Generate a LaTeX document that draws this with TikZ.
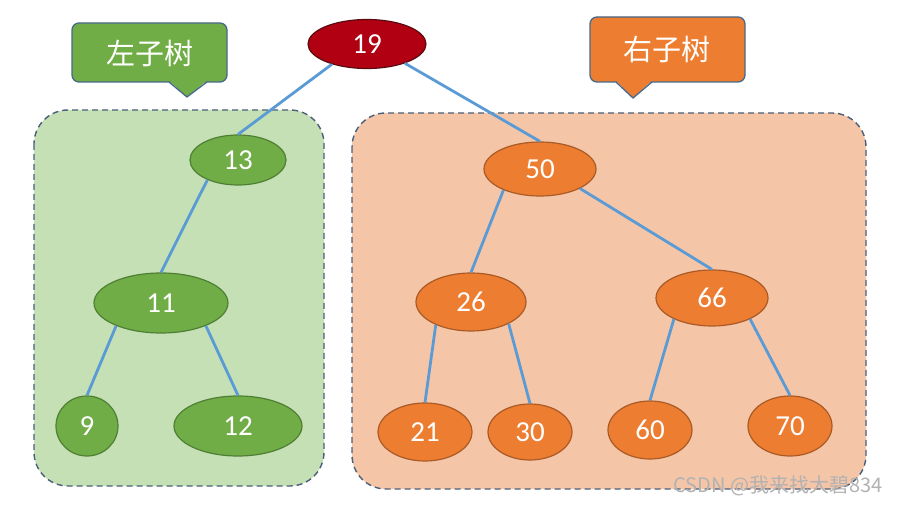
\documentclass[tikz,border=0pt]{standalone}
\usepackage{fontspec}
\setmainfont{Carlito}
\newfontfamily\cjkfont{Noto Sans CJK SC}
\usetikzlibrary{shapes.geometric}
\definecolor{gfill}{HTML}{70AD47}
\definecolor{gline}{HTML}{4F7F34}
\definecolor{ofill}{HTML}{ED7D31}
\definecolor{oline}{HTML}{A95A25}
\definecolor{rfill}{HTML}{B00012}
\definecolor{rline}{HTML}{5A0A10}
\definecolor{gregion}{HTML}{C5E0B4}
\definecolor{oregion}{HTML}{F5C5A8}
\definecolor{regline}{HTML}{4A5F7A}
\definecolor{edgec}{HTML}{5B9BD5}
\definecolor{callline}{HTML}{48698A}
\tikzset{
  tnode/.style={ellipse, inner sep=0pt, line width=1.2pt, text=white,
    font=\fontsize{29}{34}\selectfont},
  gnode/.style={tnode, fill=gfill, draw=gline},
  onode/.style={tnode, fill=ofill, draw=oline},
  rnode/.style={tnode, fill=rfill, draw=rline},
  edge/.style={draw=edgec, line width=2.8pt},
  region/.style={draw=regline, line width=1.4pt, dash pattern=on 6pt off 4pt, rounded corners=34pt},
  calltext/.style={text=white, font=\cjkfont\fontsize{29}{34}\selectfont, inner sep=0pt},
}
\begin{document}
\begin{tikzpicture}[x=1pt,y=-1pt]
\useasboundingbox (0,0) rectangle (898,505);
\fill[white] (0,0) rectangle (898,505);
% regions
\path[region, fill=gregion] (34,110) rectangle (324,486);
\path[region, fill=oregion] (352,113) rectangle (866,489);
% callouts
\path[fill=gfill, draw=callline, line width=1.3pt, rounded corners=7pt] (72,23) rectangle (227,82);
\fill[gfill] (169,80.6) -- (187,97) -- (207,80.6) -- cycle;
\draw[callline, line width=1.3pt, line join=miter] (169,82) -- (187,97) -- (207,82);
\node[calltext] (lt) at (149.5,53) {左子树};
\path[fill=ofill, draw=callline, line width=1.3pt, rounded corners=7pt] (590,17) rectangle (745,82);
\fill[ofill] (616,80.6) -- (633,98) -- (652,80.6) -- cycle;
\draw[callline, line width=1.3pt, line join=miter] (616,82) -- (633,98) -- (652,82);
\node[calltext] (rt) at (667,49) {右子树};
% nodes
\node[rnode, minimum width=118pt, minimum height=49pt] (n19) at (367,44) {19};
\node[gnode, minimum width=96pt, minimum height=50pt] (n13) at (238,160) {13};
\node[onode, minimum width=112pt, minimum height=54pt] (n50) at (540,169) {50};
\node[gnode, minimum width=134pt, minimum height=60pt] (n11) at (161,303) {11};
\node[onode, minimum width=110pt, minimum height=58pt] (n26) at (471,302) {26};
\node[onode, minimum width=112pt, minimum height=56pt] (n66) at (712,298) {66};
\node[gnode, minimum width=62pt, minimum height=60pt] (n9) at (87,426) {9};
\node[gnode, minimum width=128pt, minimum height=60pt] (n12) at (238,426) {12};
\node[onode, minimum width=94pt, minimum height=58pt] (n21) at (425,432) {21};
\node[onode, minimum width=84pt, minimum height=56pt] (n30) at (530,432) {30};
\node[onode, minimum width=84pt, minimum height=58pt] (n60) at (650,430) {60};
\node[onode, minimum width=84pt, minimum height=60pt] (n70) at (790,426) {70};
% edges
\draw[edge] (n19.210) -- (n13.north);
\draw[edge] (n19.-27) -- (n50.north);
\draw[edge] (n13.213) -- (n11.north);
\draw[edge] (n11.207) -- (n9.north);
\draw[edge] (n11.-27) -- (n12.north);
\draw[edge] (n50.210) -- (n26.north);
\draw[edge] (n50.-26) -- (n66.north);
\draw[edge] (n26.213) -- (n21.north);
\draw[edge] (n26.-30) -- (n30.north);
\draw[edge] (n66.209) -- (n60.north);
\draw[edge] (n66.-29) -- (n70.north);
% watermark
\node[anchor=east, text=gray!60, font=\cjkfont\fontsize{20}{22}\selectfont, inner sep=0pt] (wm) at (883,486) {CSDN @我来找大碧834};
\end{tikzpicture}
\end{document}
